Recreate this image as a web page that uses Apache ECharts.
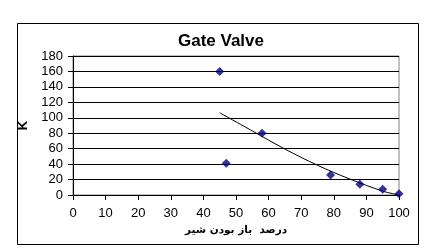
<!DOCTYPE html>
<html>
<head>
<meta charset="utf-8">
<script src="https://cdn.jsdelivr.net/npm/echarts@6/dist/echarts.min.js"></script>
<style>html,body{margin:0;padding:0;background:#fff}#c{width:442px;height:249px}</style>
</head>
<body>
<div id="c"></div>
<script>
var title = 'Gate Valve';
var xName = 'درصد  باز بودن شیر';
var yName = 'K';
var pointX = [45, 47, 58, 79, 88, 95, 100];
var pointK = [160, 41, 80, 26, 14, 7.4, 1.5];
var trendX = [45, 55, 65, 75, 85, 95, 100];
var trendK = [106.5, 83, 59.5, 38.5, 20.5, 5, 0];

var chart = echarts.init(document.getElementById('c'), null, {renderer: 'canvas'});
var font = '"Liberation Sans", Arial, sans-serif';
chart.setOption({
  animation: false,
  backgroundColor: '#fff',
  title: {
    text: title, left: 'center', top: 33, padding: 0,
    textStyle: {fontFamily: font, fontSize: 17, fontWeight: 'bold', color: '#000'}
  },
  graphic: [{
    type: 'rect', left: 15, top: 21, silent: true,
    shape: {width: 401, height: 221},
    style: {fill: 'none', stroke: '#000', lineWidth: 1}
  }],
  grid: {left: 73, right: 43, top: 56, bottom: 54, show: true, borderColor: '#808080', borderWidth: 1},
  xAxis: {
    type: 'value', min: 0, max: 100, interval: 10,
    name: xName, nameLocation: 'middle', nameGap: 27,
    nameTextStyle: {fontFamily: '"DejaVu Sans", sans-serif', fontSize: 10.5, fontWeight: 'bold', color: '#000'},
    axisLine: {show: true, lineStyle: {color: '#000', width: 1}},
    axisTick: {show: true, length: 5, lineStyle: {color: '#000'}},
    axisLabel: {fontFamily: font, fontSize: 13, color: '#000', margin: 12},
    splitLine: {show: false}
  },
  yAxis: {
    type: 'value', min: 0, max: 180, interval: 20,
    name: yName, nameLocation: 'middle', nameGap: 40, nameRotate: 90,
    nameTextStyle: {fontFamily: font, fontSize: 13, fontWeight: 'bold', color: '#000'},
    axisLine: {show: true, lineStyle: {color: '#000', width: 1}},
    axisTick: {show: true, length: 5, lineStyle: {color: '#000'}},
    axisLabel: {fontFamily: font, fontSize: 13, color: '#000', margin: 10},
    splitLine: {show: true, lineStyle: {color: '#000', width: 1}}
  },
  series: [{
    type: 'line', data: trendX.map(function (x, i) { return [x, trendK[i]]; }),
    smooth: 0.3, showSymbol: false, symbol: 'none',
    lineStyle: {color: '#000', width: 1}, z: 2
  }, {
    type: 'scatter', data: pointX.map(function (x, i) { return [x, pointK[i]]; }),
    symbol: 'diamond', symbolSize: 9,
    itemStyle: {color: '#000080'}, z: 3
  }]
});
</script>
</body>
</html>
